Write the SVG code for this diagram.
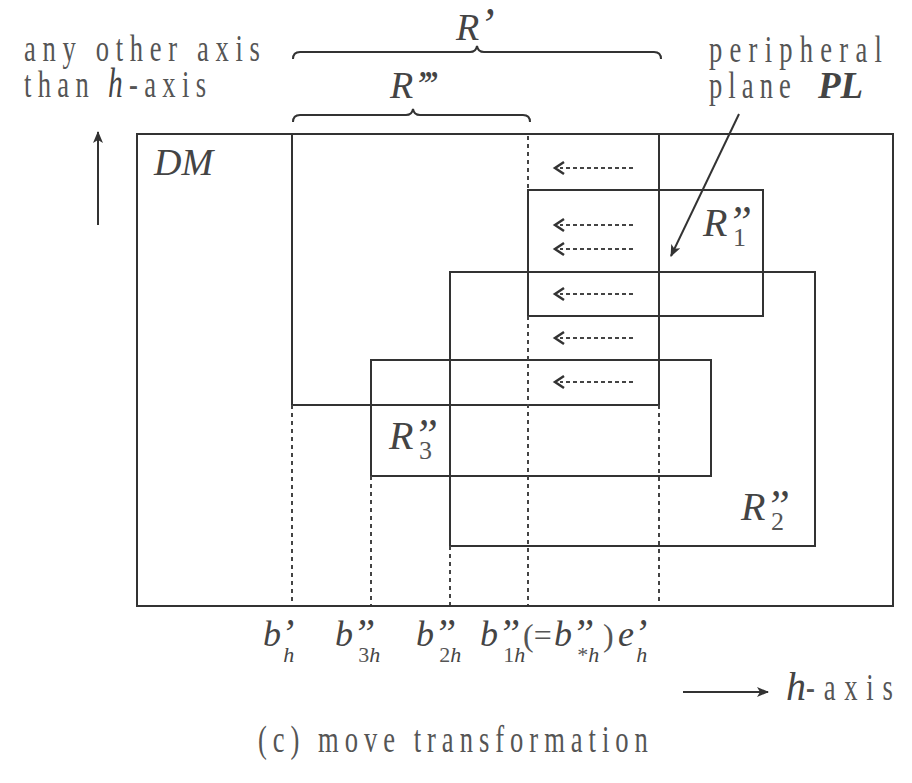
<svg xmlns="http://www.w3.org/2000/svg" width="912" height="783" viewBox="0 0 912 783">
<defs>
<style>
.ln{fill:none;stroke:#333;stroke-width:2}
.dot{fill:none;stroke:#444;stroke-width:2;stroke-dasharray:4 4}
.dash{fill:none;stroke:#444;stroke-width:2;stroke-dasharray:4 3}
.head{fill:none;stroke:#333;stroke-width:2.5;stroke-linejoin:miter}
.t{font-family:"Liberation Serif","DejaVu Serif",serif;font-size:38px;fill:#555}
.m{font-family:"Liberation Serif","DejaVu Serif",serif;font-style:italic;fill:#444}
.up{font-family:"Liberation Serif","DejaVu Serif",serif;font-style:normal;fill:#555}
</style>
<marker id="ah" viewBox="0 0 12 10" refX="11" refY="5" markerWidth="12" markerHeight="10" markerUnits="userSpaceOnUse" orient="auto">
<path d="M0,0 L12,5 L0,10 L3,5 Z" fill="#333"/>
</marker>
</defs>
<rect width="912" height="783" fill="#fff"/>

<g id="labels-top">
<text class="t" transform="translate(24,61) scale(0.7,1)" textLength="337" lengthAdjust="spacing">any other axis</text>
<text class="t" transform="translate(24,97) scale(0.7,1)" textLength="260" lengthAdjust="spacing">than <tspan class="m" font-size="42">h</tspan>-axis</text>
<text class="t" transform="translate(709,62) scale(0.7,1)" textLength="247" lengthAdjust="spacing">peripheral</text>
<text class="t" transform="translate(709,98) scale(0.7,1)" textLength="117" lengthAdjust="spacing">plane</text>
<text class="m" x="818" y="98" font-size="37" font-weight="bold">PL</text>
<text class="m" x="456" y="40" font-size="38">R<tspan font-size="46">’</tspan></text>
<text class="m" x="390" y="98" font-size="38">R<tspan font-size="40" letter-spacing="-3">’’’</tspan></text>
</g>

<g id="braces">
<path class="ln" d="M293,59 Q293,52 300,52 L470,52 Q476,52 477,46 Q478,52 484,52 L654,52 Q661,52 661,59"/>
<path class="ln" d="M293,122 Q293,115 300,115 L406,115 Q412,115 413,109 Q414,115 420,115 L523,115 Q530,115 530,122"/>
</g>

<g id="DM">
<rect class="ln" x="137" y="134" width="756" height="472"/>
<text class="m" x="154" y="175" font-size="38">DM</text>
</g>

<g id="R-prime">
<path class="ln" d="M292,134 L292,405 L659,405 L659,134"/>
</g>

<g id="R1">
<rect class="ln" x="528" y="190" width="235" height="126"/>
<text class="m" x="703" y="236" font-size="40">R<tspan font-size="44">”</tspan><tspan class="up" font-size="26" dx="-19" dy="10">1</tspan></text>
</g>

<g id="R2">
<rect class="ln" x="450" y="272" width="365" height="274"/>
<text class="m" x="741" y="520" font-size="40">R<tspan font-size="44">”</tspan><tspan class="up" font-size="26" dx="-19" dy="10">2</tspan></text>
</g>

<g id="R3">
<rect class="ln" x="371" y="360" width="340" height="116"/>
<text class="m" x="389" y="449" font-size="40">R<tspan font-size="44">”</tspan><tspan class="up" font-size="26" dx="-19" dy="10">3</tspan></text>
</g>

<g id="connectors">
<line class="dot" x1="528" y1="136" x2="528" y2="190"/>
<line class="dot" x1="528" y1="316" x2="528" y2="605"/>
<line class="dot" x1="292" y1="405" x2="292" y2="605"/>
<line class="dot" x1="371" y1="476" x2="371" y2="605"/>
<line class="dot" x1="450" y1="546" x2="450" y2="605"/>
<line class="dot" x1="659" y1="405" x2="659" y2="605"/>

<g id="move-arrows">
<line class="dash" x1="633" y1="168" x2="560" y2="168"/>
<path class="head" d="M564,162 L555,168 L564,174"/>
<line class="dash" x1="633" y1="225" x2="560" y2="225"/>
<path class="head" d="M564,219 L555,225 L564,231"/>
<line class="dash" x1="633" y1="249" x2="560" y2="249"/>
<path class="head" d="M564,243 L555,249 L564,255"/>
<line class="dash" x1="633" y1="294" x2="560" y2="294"/>
<path class="head" d="M564,288 L555,294 L564,300"/>
<line class="dash" x1="633" y1="338" x2="560" y2="338"/>
<path class="head" d="M564,332 L555,338 L564,344"/>
<line class="dash" x1="633" y1="382" x2="560" y2="382"/>
<path class="head" d="M564,376 L555,382 L564,388"/>
</g>

<line class="ln" x1="739" y1="114" x2="671" y2="256" marker-end="url(#ah)" stroke-width="1.8"/>
<line class="ln" x1="98" y1="225" x2="98" y2="132" marker-end="url(#ah)"/>
<line class="ln" x1="683" y1="692" x2="768" y2="692" marker-end="url(#ah)"/>
</g>

<g id="axis-labels">
<text class="m" x="263" y="646" font-size="36">b<tspan font-size="40">’</tspan><tspan font-size="22" dx="-11" dy="16">h</tspan></text>
<text class="m" x="335" y="646" font-size="36">b<tspan font-size="40">”</tspan><tspan class="up" font-size="22" dx="-17" dy="16">3</tspan><tspan font-size="22">h</tspan></text>
<text class="m" x="416" y="646" font-size="36">b<tspan font-size="40">”</tspan><tspan class="up" font-size="22" dx="-17" dy="16">2</tspan><tspan font-size="22">h</tspan></text>
<text class="m" x="480" y="646" font-size="36">b<tspan font-size="40">”</tspan><tspan class="up" font-size="22" dx="-17" dy="16">1</tspan><tspan font-size="22">h</tspan></text>
<text class="up" x="523" y="646" font-size="32">(=</text>
<text class="m" x="554" y="646" font-size="36">b<tspan font-size="40">”</tspan><tspan class="up" font-size="22" dx="-17" dy="16">*</tspan><tspan font-size="22">h</tspan></text>
<text class="up" x="603" y="646" font-size="32">)</text>
<text class="m" x="618" y="646" font-size="36">e<tspan font-size="40">’</tspan><tspan font-size="22" dx="-11" dy="16">h</tspan></text>

<text class="m" x="786" y="700" font-size="40">h</text>
<text class="t" transform="translate(806,700) scale(0.7,1)" textLength="124" lengthAdjust="spacing">-axis</text>
</g>

<text class="t" transform="translate(258,752) scale(0.7,1)" font-size="40" textLength="557" lengthAdjust="spacing">(c) move transformation</text>
</svg>
